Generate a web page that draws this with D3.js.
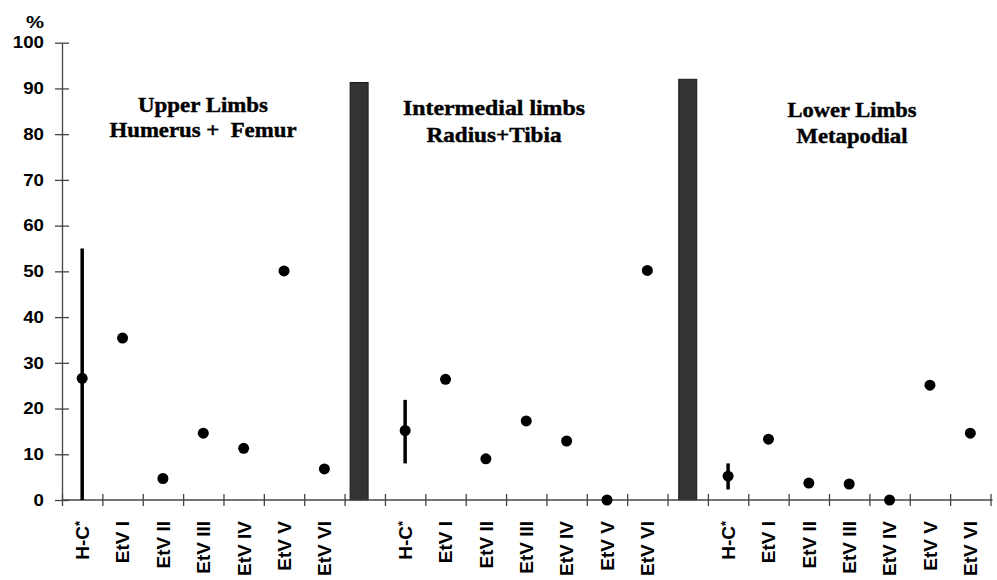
<!DOCTYPE html>
<html><head><meta charset="utf-8">
<script src="https://cdn.jsdelivr.net/npm/d3@7"></script>
<style>body{margin:0;background:#fff}svg{display:block}</style>
</head><body>
<svg id="c" width="997" height="580"></svg>
<script>
// ---- data ----
const categories = ["H-C*","EtV I","EtV II","EtV III","EtV IV","EtV V","EtV VI"];
const groups = ["Upper","Intermedial","Lower"];
const upperValues = [26.6, 35.4, 4.7, 14.6, 11.3, 50.1, 6.8];
const intermedialValues = [15.2, 26.4, 9.0, 17.3, 12.9, 0, 50.2];
const lowerValues = [5.2, 13.3, 3.7, 3.5, 0, 25.1, 14.6];
const errorLow = [0, 8.0, 2.3];
const errorHigh = [55.0, 21.9, 8.0];
const separatorValues = [91.3, 92.0];
const separatorSlots = [7.36, 15.5]; // position in category-slot units
const titles = [["Upper Limbs","Humerus +  Femur"],["Intermedial limbs","Radius+Tibia"],["Lower Limbs","Metapodial"]];
const titleWidths = [[130,187],[182,135],[129,111]];
const yTicks = [0,10,20,30,40,50,60,70,80,90,100];

const svg = d3.select("#c");
const nSlots = 23;
const x = d3.scaleLinear().domain([0, nSlots]).range([62, 990.5]);
const y = d3.scaleLinear().domain([0, 100]).range([500, 42.7]);
const axisColor = "#444";

const seriesValues = [upperValues, intermedialValues, lowerValues];
const points = [];
seriesValues.forEach((vals, g) => {
  vals.forEach((v, i) => points.push({g, i, v, slot: g * 8 + i, cat: categories[i]}));
});

// separator bars
svg.selectAll("rect.sep").data(separatorValues).join("rect")
  .attr("x", (d, i) => x(separatorSlots[i]) - 9)
  .attr("width", 18)
  .attr("y", d => y(d))
  .attr("height", d => y(0) - y(d))
  .attr("fill", "#333").attr("stroke", "#1a1a1a").attr("stroke-width", 1);

// y axis
const yAxis = d3.axisLeft(y).tickValues(yTicks).tickSizeInner(7).tickSizeOuter(0).tickPadding(11);
const gy = svg.append("g").attr("transform", `translate(${x(0)},0)`).call(yAxis);
gy.select(".domain").attr("stroke", axisColor).attr("stroke-width", 1.3);
gy.selectAll(".tick line").attr("stroke", axisColor).attr("stroke-width", 1.3).attr("x2", 7).attr("x1", -7);
gy.selectAll(".tick text")
  .attr("font-family", "Liberation Sans, Arial, sans-serif")
  .attr("font-weight", "bold").attr("font-size", 16.5).attr("fill", "#000")
  .attr("x", -18)
  .attr("textLength", d => String(d).length * 10.4)
  .attr("lengthAdjust", "spacingAndGlyphs");

svg.append("text").attr("x", 44).attr("y", 28).attr("text-anchor", "end")
  .attr("font-family", "Liberation Sans, Arial, sans-serif").attr("font-weight", "bold")
  .attr("font-size", 17).attr("textLength", 18).attr("lengthAdjust", "spacingAndGlyphs")
  .text("%");

// x axis
const xAxis = d3.axisBottom(x).tickValues(d3.range(0, nSlots + 1)).tickSize(0).tickFormat("");
const gx = svg.append("g").attr("transform", `translate(0,${y(0)})`).call(xAxis);
gx.select(".domain").attr("stroke", axisColor).attr("stroke-width", 1.3).attr("d", `M${x(0)},0H${x(nSlots) + 2}`);
gx.selectAll(".tick line").attr("stroke", axisColor).attr("stroke-width", 1.3).attr("y1", -6).attr("y2", 6);

// x labels
svg.selectAll("text.xl").data(points).join("text")
  .attr("class", "xl")
  .attr("transform", d => `translate(${x(d.slot + 0.5)},521) rotate(-90)`)
  .attr("text-anchor", "end").attr("dy", "0.36em")
  .attr("font-family", "Liberation Sans, Arial, sans-serif").attr("font-weight", "bold")
  .attr("font-size", 19).attr("fill", "#000")
  .each(function(d) {
    const t = d3.select(this);
    if (d.cat.endsWith("*")) {
      t.append("tspan").text(d.cat.slice(0, -1));
      t.append("tspan").attr("font-size", 13).attr("dy", "-0.35em").text("*");
    } else t.text(d.cat);
  });

// error bars
svg.selectAll("line.err").data(groups).join("line")
  .attr("x1", (d, g) => x(g * 8 + 0.5)).attr("x2", (d, g) => x(g * 8 + 0.5))
  .attr("y1", (d, g) => y(errorLow[g])).attr("y2", (d, g) => y(errorHigh[g]))
  .attr("stroke", "#000").attr("stroke-width", 3.5);

// points
svg.selectAll("circle.pt").data(points).join("circle")
  .attr("cx", d => x(d.slot + 0.5)).attr("cy", d => y(d.v)).attr("r", 5.5).attr("fill", "#000");

// titles
const titleY = [[112, 137], [115, 141.5], [116.5, 143]];
const titleCx = [203, 494, 852];
titles.forEach((lines, g) => {
  lines.forEach((s, j) => {
    svg.append("text").attr("x", titleCx[g]).attr("y", titleY[g][j]).attr("text-anchor", "middle")
      .attr("font-family", "Liberation Serif, Times New Roman, serif").attr("font-weight", "bold")
      .attr("font-size", 20).attr("fill", "#000").attr("stroke", "#000").attr("stroke-width", 0.4)
      .attr("textLength", titleWidths[g][j]).attr("lengthAdjust", "spacingAndGlyphs")
      .attr("xml:space", "preserve")
      .text(s);
  });
});
</script>
</body></html>
